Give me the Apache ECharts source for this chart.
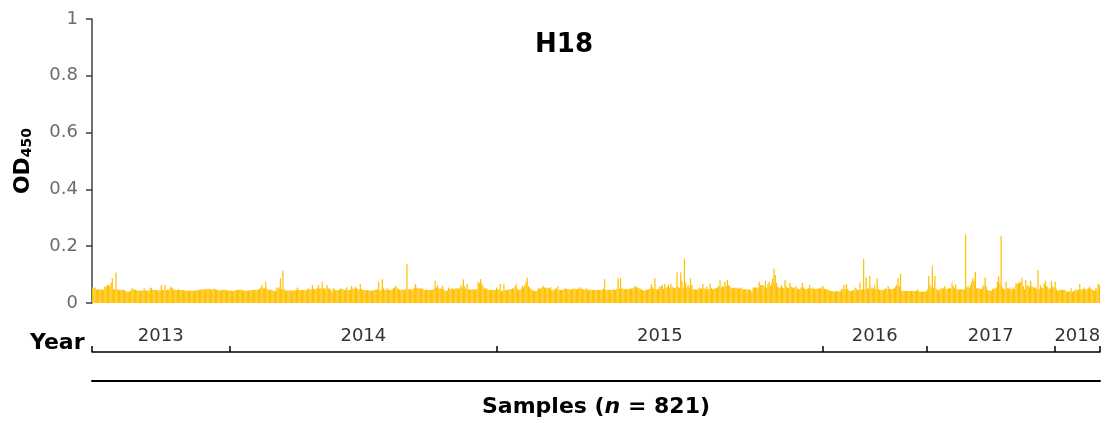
<!DOCTYPE html>
<html><head><meta charset="utf-8">
<script src="https://cdn.jsdelivr.net/npm/echarts@6/dist/echarts.min.js"></script>
<style>html,body{margin:0;padding:0;background:#fff}#c{width:1115px;height:423px}</style>
</head><body><div id="c"></div>
<script>
const chartTitle = 'H18';
const years = ['2013', '2014', '2015', '2016', '2017', '2018'];
const yTicks = [0, 0.2, 0.4, 0.6, 0.8, 1];

const od2013 = [.055,.052,.055,.048,.047,.048,.048,.047,.048,.046,.058,.057,.063,.063,.058,.070,.087,.048,.048,.107,
.046,.047,.046,.046,.047,.046,.046,.040,.041,.040,.041,.042,.052,.050,.046,.046,.045,.044,.043,.043,
.044,.043,.052,.044,.044,.043,.044,.055,.052,.046,.046,.047,.046,.044,.044,.045,.063,.046,.046,.063,
.046,.047,.046,.052,.058,.052,.046,.047,.046,.047,.048,.046,.046,.045,.046,.044,.043,.043,.044,.043,
.043,.044,.043,.043,.044,.045,.046,.046,.047,.048,.047,.048,.048,.050,.048,.050,.047,.048,.047,.052,
.048,.047,.046,.045,.044,.044,.046,.048,.046,.045,.044,.044];

const od2014 = [.043,.043,.042,.043,.044,.046,.046,.047,.048,.046,.045,.044,.044,.043,.043,.044,.044,.045,.046,.046,
.046,.047,.046,.048,.050,.055,.063,.052,.052,.075,.050,.046,.046,.046,.047,.043,.043,.042,
.055,.050,.055,.087,.048,.114,.048,.044,.044,.043,.044,.044,.043,.044,.044,.045,.048,.055,.046,.046,
.047,.046,.046,.045,.046,.048,.052,.047,.048,.063,.050,.048,.050,.052,.063,.050,.052,.075,.052,.050,
.052,.063,.050,.052,.046,.040,.052,.047,.046,.046,.046,.047,.052,.048,.048,.046,.047,.055,.046,.046,
.047,.060,.050,.048,.058,.052,.048,.047,.067,.050,.046,.046,.046,.045,.046,
.044,.045,.043,.044,.045,.046,.048,.047,.075,.043,.046,.084,.052,.047,.046,.052,.046,.047,.045,.047,
.052,.055,.060,.052,.050,.046,.046,.047,.046,.047,.048,.137,.048,.048,.048,.047,.048,.055,.067,.055,
.052,.052,.050,.052,.050,.046,.046,.047,.046,.046,.047,.046,.046,.050,.078,.055,.063,.050,.052,.050,
.060,.048,.043,.043,.044,.055,.048,.050,.052,.048,.050,.052,.052,.050,.052,
.063,.055,.083,.058,.050,.067,.048,.048,.047,.048,.048,.047,.048,.048,.075,.070,.084,.069,.058,.052,
.050,.052,.046,.046,.046,.047,.046,.046,.046,.055];

const od2015 = [.048,.047,.067,.043,.043,.067,.046,.046,.046,.047,.048,.048,.052,.050,.058,.067,.050,.046,.046,.050,
.060,.055,.063,.075,.090,.060,.055,.048,.046,.043,.042,.043,.043,.052,.050,.052,.055,.060,.055,.052,
.055,.052,.052,.055,.046,
.046,.047,.052,.050,.060,.046,.046,.047,.046,.048,.052,.050,.048,.048,.047,.048,.048,.052,.050,.048,
.050,.055,.050,.055,.048,.048,.047,.052,.048,.046,.046,.046,.047,.046,.046,.046,.045,.046,.046,.046,
.047,.050,.084,.046,.046,.047,.046,.046,.047,.046,.048,.046,.050,.087,.050,.087,.052,.048,.048,.048,
.050,.048,.048,.052,.050,.052,.055,.060,.055,.055,.052,.050,
.048,.046,.044,.045,.046,.047,.048,.050,.067,.055,.050,.087,.048,.047,.050,.058,.058,.063,.050,.067,
.052,.058,.063,.052,.067,.058,.055,.052,.055,.107,.058,.052,.107,.078,.055,.156,.071,.055,.063,.055,
.087,.063,.048,.048,.048,.047,.048,.055,.052,.050,.067,.052,.048,.058,.048,.050,.069,.052,.048,.050,
.052,.052,.055,.060,.081,.055,.060,.058,.075,.060,.081,.063,.058,.055,.052,.052,.055,.052,
.055,.050,.052,.055,.050,.048,.048,.048,.047,.048,.048,.046,.040,.055,.055,.055,.052,.055,.075,.063,
.063,.063,.058,.078,.052,.067,.075,.060,.069,.087,.121,.099,.071,.058,.052,.055,.063,.055,.052,.081,
.058,.052,.055,.071,.058,.055,.055,.052,.060,.052,.048,.048,.055,.071,.055,.050,.048,.050,.052,.063,
.052,.050,.055,.050,.048,.050,.052,.050,.055,.052];

const od2016 = [.060,.050,.048,.048,.047,.046,.042,.041,.042,.040,.041,.042,.041,.040,.042,.048,.050,.063,.048,.067,
.050,.043,.043,.042,.044,.046,.055,.050,.046,.046,.071,.046,.048,.156,.048,.090,.052,.050,.095,.055,
.055,.050,.063,.048,.087,.050,.046,.046,.046,.046,.048,.052,.048,.060,.050,.048,.048,.050,.052,.058,
.063,.087,.060,.102,.043,.042,.042,.042,.042,.043,.042,.042,.043,.042,.042,.043,.042,.048,.041,.040,
.040,.040,.040,.041,.040];

const od2017 = [.048,.095,.063,.055,.130,.055,.095,.050,.046,.046,.046,.055,.050,.052,.060,.050,.048,.052,.052,.052,
.071,.060,.052,.067,.048,.048,.047,.048,.048,.047,.048,.241,.055,.060,.052,.063,.075,.087,.078,.110,
.052,.052,.052,.048,.050,.058,.063,.090,.058,.046,.043,.043,.043,.048,.052,.050,.055,.075,.093,.069,
.236,.055,.050,.048,.075,.052,.050,.055,.048,
.048,.055,.048,.069,.069,.069,.075,.071,.090,.060,.048,.081,.058,.063,.055,.078,.060,.055,.055,.055,
.050,.116,.048,.063,.055,.052,.067,.078,.060,.055,.048,.052,.078,.058,.055];

const od2018 = [.075,.050,.042,.046,.046,.047,.046,.046,.046,.040,.040,.041,.040,.052,.040,.042,.044,.048,.046,.046,
.067,.048,.048,.050,.055,.046,.048,.052,.058,.050,.048,.045,.043,.052,.050,.067,.063];

const yearData = [od2013, od2014, od2015, od2016, od2017, od2018];
const values = [].concat(...yearData);
const sampleCount = values.length;
const categories = values.map((_, i) => String(i + 1));
const bounds = [0];
yearData.forEach(a => bounds.push(bounds[bounds.length - 1] + a.length));
const mids = years.map((_, i) => (bounds[i] + bounds[i + 1]) / 2);

const chart = echarts.init(document.getElementById('c'), null, {renderer: 'canvas'});
chart.setOption({
  animation: false,
  backgroundColor: '#ffffff',
  title: [{
    text: chartTitle, left: 559, top: 27, textAlign: 'center',
    textStyle: {fontFamily: 'DejaVu Sans', fontWeight: 'bold', fontSize: 26, color: '#000'}
  }, {
    text: 'Year', left: 25, top: 327,
    textStyle: {fontFamily: 'DejaVu Sans', fontWeight: 'bold', fontSize: 22, color: '#000'}
  }],
  grid: {left: 92, right: 15, top: 19, bottom: 120, containLabel: false},
  xAxis: [{
    type: 'category', data: categories, position: 'bottom',
    axisLine: {show: false}, axisTick: {show: false}, axisLabel: {show: false}, splitLine: {show: false}
  }, {
    type: 'value', position: 'bottom', offset: 49, min: 0, max: sampleCount,
    axisLine: {show: true, onZero: false, lineStyle: {color: '#000', width: 1.5}},
    axisTick: {show: true, inside: true, customValues: bounds, length: 6, lineStyle: {color: '#000', width: 1.5}},
    axisLabel: {show: true, inside: true, customValues: mids, margin: 7,
      formatter: v => years[mids.indexOf(v)],
      fontFamily: 'DejaVu Sans', fontSize: 18, color: '#333333'},
    splitLine: {show: false}
  }, {
    type: 'value', position: 'bottom', offset: 78, min: 0, max: sampleCount,
    axisLine: {show: true, onZero: false, lineStyle: {color: '#000', width: 2}},
    axisTick: {show: false}, axisLabel: {show: false}, splitLine: {show: false},
    name: '{b|Samples (}{i|n}{b| = ' + sampleCount + ')}',
    nameLocation: 'middle', nameGap: 15,
    nameTextStyle: {rich: {
      b: {fontFamily: 'DejaVu Sans', fontWeight: 'bold', fontSize: 22, color: '#000'},
      i: {fontFamily: 'DejaVu Sans', fontWeight: 'bold', fontStyle: 'italic', fontSize: 22, color: '#000'}
    }}
  }],
  yAxis: {
    type: 'value', min: yTicks[0], max: yTicks[yTicks.length - 1], interval: yTicks[1] - yTicks[0],
    axisLine: {show: true, lineStyle: {color: '#404040', width: 1.5}},
    axisTick: {show: true, length: 6, lineStyle: {color: '#404040', width: 1.5}},
    splitLine: {show: false},
    axisLabel: {color: '#6b6b6b', fontFamily: 'DejaVu Sans', fontSize: 18, margin: 14},
    name: '{b|OD}{s|450}', nameLocation: 'middle', nameRotate: 90, nameGap: 58,
    nameTextStyle: {rich: {
      b: {fontFamily: 'DejaVu Sans', fontWeight: 'bold', fontSize: 22, color: '#000', verticalAlign: 'bottom'},
      s: {fontFamily: 'DejaVu Sans', fontWeight: 'bold', fontSize: 14, color: '#000', verticalAlign: 'bottom'}
    }}
  },
  series: [{
    type: 'bar', data: values, xAxisIndex: 0, yAxisIndex: 0,
    barCategoryGap: '0%', barGap: '0%',
    itemStyle: {color: '#FFC000'}
  }]
});
</script></body></html>
